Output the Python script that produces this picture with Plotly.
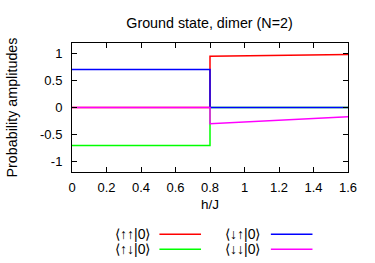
import plotly.graph_objects as go

# Data
h_low = [0.0, 0.8]
h_high = [0.8, 1.0, 1.2, 1.4, 1.6]

uu_low = [0.0, 0.0]
uu_high = [0.953, 0.962, 0.970, 0.978, 0.985]
ud_low = [-0.707, -0.707]
ud_high = [0.0, 0.0, 0.0, 0.0, 0.0]
du_low = [0.707, 0.707]
du_high = [0.0, 0.0, 0.0, 0.0, 0.0]
dd_low = [0.0, 0.0]
dd_high = [-0.30, -0.27, -0.24, -0.205, -0.17]

labels = ["⟨↑↑|0⟩", "⟨↑↓|0⟩", "⟨↓↑|0⟩", "⟨↓↓|0⟩"]
colors = ["#ff0000", "#00ff00", "#0000ff", "#ff00ff"]
series = [(uu_low, uu_high), (ud_low, ud_high), (du_low, du_high), (dd_low, dd_high)]

x_ticks = [0, 0.2, 0.4, 0.6, 0.8, 1.0, 1.2, 1.4, 1.6]
x_ticktext = ["0", "0.2", "0.4", "0.6", "0.8", "1", "1.2", "1.4", "1.6"]
y_ticks = [-1, -0.5, 0, 0.5, 1]
y_ticktext = ["-1", "-0.5", "0", "0.5", "1"]

fig = go.Figure()
for (lo, hi), c, name in zip(series, colors, labels):
    fig.add_trace(go.Scatter(x=h_low + h_high, y=lo + hi, mode="lines",
                             line=dict(color=c, width=1.5), name=name,
                             showlegend=False, hoverinfo="skip"))

FONT = "Liberation Sans, Arial, sans-serif"
W, H = 375, 263
L, R, T, B = 71.7, 26.7, 43.3, 91.3
PW, PH = W - L - R, H - T - B

def px(xp):
    return (xp - L) / PW

def py(yp):
    return (H - yp - B) / PH

axis_common = dict(showline=True, linecolor="black", linewidth=1, mirror="allticks",
                   ticks="inside", ticklen=5, tickcolor="black", showgrid=False,
                   zeroline=False, tickfont=dict(family=FONT, size=13, color="black"))

fig.update_layout(
    width=W, height=H,
    margin=dict(l=L, r=R, t=T, b=B),
    paper_bgcolor="white", plot_bgcolor="white",
    font=dict(family=FONT, size=13, color="black"),
    title=dict(text="Ground state, dimer (N=2)", x=209.5 / W, xanchor="center",
               y=1 - 23 / H, yanchor="middle", yref="container",
               font=dict(family=FONT, size=14.3, color="black")),
    xaxis=dict(range=[0, 1.6], tickvals=x_ticks, ticktext=x_ticktext,
               ticklabelstandoff=3, **axis_common),
    yaxis=dict(range=[-1.2, 1.2], tickvals=y_ticks, ticktext=y_ticktext,
               ticklabelstandoff=6, **axis_common),
)

# Axis titles
fig.add_annotation(xref="paper", yref="paper", x=px(209.5), y=py(204.5),
                   text="h/J", showarrow=False, xanchor="center", yanchor="middle",
                   font=dict(family=FONT, size=13.5, color="black"))
fig.add_annotation(xref="paper", yref="paper", x=px(12.5), y=py(107.5),
                   text="Probability amplitudes", showarrow=False, textangle=-90,
                   xanchor="center", yanchor="middle",
                   font=dict(family=FONT, size=14.3, color="black"))

# Manual gnuplot-style legend (text left of the line sample)
rows = [233.7, 248.7]
cols = [(151.5, 159.3, 201.0), (262.0, 271.0, 312.7)]
order = [(0, 0), (0, 1), (1, 0), (1, 1)]  # (col,row) for each series
for i, (ci, ri) in enumerate(order):
    tx, x0, x1 = cols[ci]
    fig.add_annotation(xref="paper", yref="paper", x=px(tx), y=py(rows[ri]),
                       text=labels[i], showarrow=False, xanchor="right", yanchor="middle",
                       font=dict(family=FONT, size=14, color="black"))
    fig.add_shape(type="line", xref="paper", yref="paper",
                  x0=px(x0), x1=px(x1), y0=py(rows[ri]), y1=py(rows[ri]),
                  line=dict(color=colors[i], width=1.5))

fig.write_html("out.html")
